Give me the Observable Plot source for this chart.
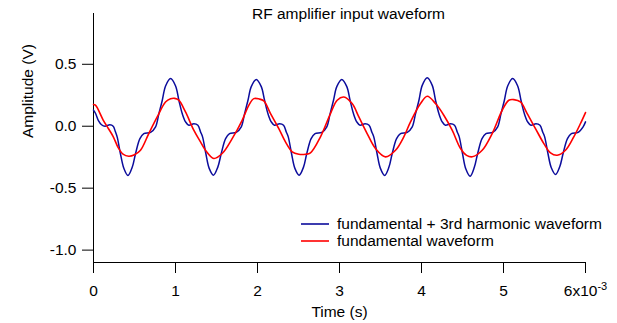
<!DOCTYPE html>
<html>
<head>
<meta charset="utf-8">
<script src="https://cdn.jsdelivr.net/npm/d3@7"></script>
<script src="https://cdn.jsdelivr.net/npm/@observablehq/plot@0.6"></script>
<style>
  html, body { margin: 0; padding: 0; background: #fff; }
  #wrap { position: relative; width: 617px; height: 323px; font-family: "Liberation Sans", Arial, Helvetica, sans-serif; }
  #wrap svg.overlay { position: absolute; left: 0; top: 0; pointer-events: none; }
</style>
</head>
<body>
<div id="wrap"></div>
<script>
// ---- data (time in ms, amplitude in V) ----
const blueT = [
  0, 0.024, 0.06, 0.098, 0.14, 0.2, 0.24, 0.265, 0.29, 0.328, 0.37, 0.42,
  0.473, 0.513, 0.566, 0.614, 0.696, 0.757, 0.797, 0.839, 0.879, 0.940, 1.001, 1.041, 1.083, 1.123, 1.163, 1.224, 1.273, 1.306, 1.330, 1.370, 1.411, 1.463,
  1.516, 1.558, 1.611, 1.659, 1.741, 1.802, 1.842, 1.884, 1.924, 1.985, 2.046, 2.086, 2.128, 2.168, 2.208, 2.269, 2.318, 2.351, 2.375, 2.415, 2.456, 2.508,
  2.561, 2.601, 2.654, 2.702, 2.784, 2.845, 2.885, 2.927, 2.967, 3.028, 3.089, 3.129, 3.171, 3.211, 3.251, 3.312, 3.361, 3.394, 3.418, 3.458, 3.499, 3.551,
  3.603, 3.643, 3.696, 3.744, 3.826, 3.887, 3.927, 3.969, 4.009, 4.070, 4.131, 4.171, 4.213, 4.253, 4.293, 4.354, 4.403, 4.436, 4.460, 4.500, 4.541, 4.593,
  4.645, 4.685, 4.738, 4.786, 4.868, 4.929, 4.969, 5.011, 5.051, 5.112, 5.173, 5.213, 5.255, 5.295, 5.335, 5.396, 5.445, 5.478, 5.502, 5.542, 5.583, 5.635,
  5.687, 5.727, 5.780, 5.828, 5.910, 5.971, 6.0
];
const blueV = [
  0.13, 0.105, 0.045, 0.012, 0.0, 0.012, 0.0, -0.04, -0.09, -0.22, -0.34, -0.398,
  -0.33, -0.22, -0.10, -0.06, -0.05, -0.005, 0.10, 0.21, 0.325, 0.385, 0.325, 0.21, 0.10, 0.035, 0.008, 0.02, 0.008, -0.046, -0.086, -0.22, -0.34, -0.395,
  -0.33, -0.22, -0.10, -0.06, -0.05, -0.005, 0.10, 0.21, 0.32, 0.378, 0.32, 0.21, 0.10, 0.035, 0.008, 0.02, 0.008, -0.046, -0.086, -0.22, -0.34, -0.395,
  -0.33, -0.22, -0.10, -0.06, -0.05, -0.005, 0.10, 0.21, 0.32, 0.378, 0.32, 0.21, 0.10, 0.035, 0.008, 0.02, 0.008, -0.046, -0.086, -0.22, -0.34, -0.397,
  -0.33, -0.22, -0.10, -0.06, -0.05, -0.005, 0.10, 0.21, 0.33, 0.392, 0.33, 0.21, 0.10, 0.035, 0.008, 0.02, 0.008, -0.046, -0.086, -0.22, -0.345, -0.403,
  -0.33, -0.22, -0.10, -0.06, -0.05, -0.005, 0.10, 0.21, 0.325, 0.385, 0.325, 0.21, 0.10, 0.035, 0.008, 0.02, 0.008, -0.046, -0.086, -0.22, -0.335, -0.39,
  -0.325, -0.22, -0.10, -0.06, -0.05, -0.005, 0.035
];
const redT = [
  0, 0.024, 0.118, 0.179, 0.240, 0.301, 0.36, 0.43, 0.50, 0.573, 0.674, 0.777, 0.878, 0.94, 0.99, 1.04,
  1.122, 1.223, 1.305, 1.366, 1.467, 1.569, 1.691, 1.813, 1.894, 1.955, 2.02, 2.077,
  2.159, 2.26, 2.341, 2.423, 2.504, 2.585, 2.646, 2.768, 2.89, 2.972, 3.053,
  3.154, 3.236, 3.337, 3.439, 3.561, 3.683, 3.784, 3.866, 3.988, 4.07,
  4.171, 4.272, 4.374, 4.476, 4.55, 4.618, 4.74, 4.862, 4.984, 5.065, 5.126,
  5.207, 5.289, 5.39, 5.492, 5.573, 5.655, 5.756, 5.857, 5.939, 6.0
];
const redV = [
  0.175, 0.17, 0.05, -0.016, -0.083, -0.172, -0.225, -0.242, -0.23, -0.194, -0.059, 0.075, 0.196, 0.222, 0.225, 0.21,
  0.115, -0.032, -0.127, -0.194, -0.26, -0.22, -0.1, 0.048, 0.169, 0.223, 0.22, 0.204,
  0.102, -0.019, -0.127, -0.207, -0.226, -0.226, -0.215, -0.086, 0.102, 0.21, 0.236,
  0.183, 0.075, -0.059, -0.18, -0.247, -0.194, -0.086, 0.035, 0.183, 0.242,
  0.183, 0.089, -0.032, -0.18, -0.235, -0.247, -0.194, -0.059, 0.129, 0.21, 0.215,
  0.196, 0.102, -0.019, -0.14, -0.215, -0.234, -0.194, -0.086, 0.022, 0.11
];
const seriesNames = ["fundamental + 3rd harmonic waveform", "fundamental waveform"];
const seriesColors = ["#0c0c9c", "#ff0000"];
const xTicks = [0, 1, 2, 3, 4, 5, 6];
const xTickLabels = ["0", "1", "2", "3", "4", "5", "6x10"];
const yTicks = [-1, -0.5, 0, 0.5];
const yTickLabels = ["-1.0", "-0.5", "0.0", "0.5"];
const xDomain = [0, 6];
const yDomain = [-1.1, 0.91];
const titleText = "RF amplifier input waveform";
const xLabel = "Time (s)";
const yLabel = "Amplitude (V)";

// ---- build ----
const blue = blueT.map((t, i) => ({t, v: blueV[i]}));
const red = redT.map((t, i) => ({t, v: redV[i]}));
const FONT = '"Liberation Sans", Arial, Helvetica, sans-serif';

const chart = Plot.plot({
  width: 617,
  height: 323,
  marginLeft: 93,
  marginRight: 32,
  marginTop: 13,
  marginBottom: 61,
  style: {fontFamily: FONT, fontSize: "15.5px", color: "#000", background: "#fff", overflow: "visible"},
  x: {domain: xDomain, ticks: xTicks, tickFormat: d => xTickLabels[xTicks.indexOf(d)], label: null, tickSize: 11, tickPadding: 11},
  y: {domain: yDomain, ticks: yTicks, tickFormat: d => yTickLabels[yTicks.indexOf(d)], label: null, tickSize: 11, tickPadding: 6},
  marks: [
    Plot.ruleX([xDomain[0]], {stroke: "#000", strokeWidth: 1}),
    Plot.ruleY([yDomain[0]], {stroke: "#000", strokeWidth: 1}),
    Plot.line(blue, {x: "t", y: "v", stroke: seriesColors[0], strokeWidth: 1.5, curve: "catmull-rom"}),
    Plot.line(red, {x: "t", y: "v", stroke: seriesColors[1], strokeWidth: 1.6, curve: "catmull-rom"}),
    Plot.text([titleText], {frameAnchor: "top", lineAnchor: "middle", dx: 9, dy: 1, fill: "#000"}),
    Plot.text([xLabel], {frameAnchor: "bottom", lineAnchor: "middle", dy: 49.5, fill: "#000"}),
    Plot.text([yLabel], {frameAnchor: "left", lineAnchor: "middle", dx: -65, rotate: -90, fill: "#000"})
  ]
});

// superscript exponent on last x tick label
chart.querySelectorAll("text").forEach(t => {
  if (t.textContent === "6x10") {
    const ts = document.createElementNS("http://www.w3.org/2000/svg", "tspan");
    ts.setAttribute("dy", "-6");
    ts.setAttribute("font-size", "11px");
    ts.textContent = "-3";
    t.appendChild(ts);
  }
});

const wrap = document.getElementById("wrap");
wrap.appendChild(chart);

// legend overlay
const ov = d3.select(wrap).append("svg")
  .attr("class", "overlay")
  .attr("width", 617).attr("height", 323)
  .style("font-family", FONT).style("font-size", "15.5px");
const legY = [224, 241];
seriesNames.forEach((name, i) => {
  ov.append("line").attr("x1", 301).attr("x2", 329).attr("y1", legY[i]).attr("y2", legY[i])
    .attr("stroke", seriesColors[i]).attr("stroke-width", 1.6);
  ov.append("text").attr("x", 337).attr("y", legY[i] + 5.4).attr("fill", "#000").text(name);
});
</script>
</body>
</html>
